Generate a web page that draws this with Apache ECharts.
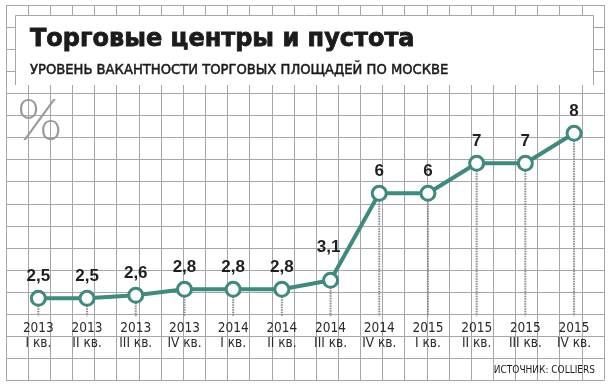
<!DOCTYPE html>
<html>
<head>
<meta charset="utf-8">
<script src="https://cdn.jsdelivr.net/npm/echarts@6/dist/echarts.min.js"></script>
<style>
html,body{margin:0;padding:0;background:#fff;}
#c{width:609px;height:389px;}
</style>
</head>
<body>
<div id="c"></div>
<script>
// ---- data ----
const years = ['2013','2013','2013','2013','2014','2014','2014','2014','2015','2015','2015','2015'];
const quarters = ['I кв.','II кв.','III кв.','IV кв.','I кв.','II кв.','III кв.','IV кв.','I кв.','II кв.','III кв.','IV кв.'];
const values = [2.5, 2.5, 2.6, 2.8, 2.8, 2.8, 3.1, 6, 6, 7, 7, 8];
const titleText = 'Торговые центры и пустота';
const subtitleText = 'УРОВЕНЬ ВАКАНТНОСТИ ТОРГОВЫХ ПЛОЩАДЕЙ ПО МОСКВЕ';
const unitText = '%';
const sourceText = 'ИСТОЧНИК: COLLIERS';

// ---- styles ----
const NARROW = "'Liberation Sans Narrow','DejaVu Sans Condensed',sans-serif";
const TEAL = '#3f8a7e';
const GRIDC = '#a6a6a8';
const AXIS_OFFSET = -57;

const chart = echarts.init(document.getElementById('c'), null, {renderer: 'canvas'});

const lineData = values.map((v, i) => {
  if (i === 6) return {value: v, label: {offset: [-2, -11]}};
  return v;
});

const option = {
  animation: false,
  backgroundColor: '#fff',
  title: [
    {text: titleText, left: 30, top: 28, textStyle: {fontFamily: "'DejaVu Sans',sans-serif", fontWeight: 'bold', fontSize: 24, color: '#1b1b1b', textBorderColor: '#1b1b1b', textBorderWidth: 0.8}, padding: 0, z: 8},
    {text: subtitleText, left: 30, top: 63, textStyle: {fontFamily: "'DejaVu Sans Condensed',sans-serif", fontWeight: 'normal', fontSize: 14.6, color: '#1b1b1b', textBorderColor: '#1b1b1b', textBorderWidth: 0.5}, padding: 0, z: 8},
    {text: unitText, left: 17, top: 92, textStyle: {fontFamily: "Lato,'Liberation Sans',sans-serif", fontWeight: 300, fontSize: 58, color: '#9a9a9a'}, padding: 0, z: 8},
    {text: sourceText, right: 14, top: 365, textStyle: {fontFamily: NARROW, fontWeight: 'normal', fontSize: 10, color: '#1b1b1b'}, padding: 0, z: 8}
  ],
  graphic: [
    {type: 'rect', z: 5, shape: {x: 15, y: 15, width: 578, height: 70}, style: {fill: '#fff'}},
    {type: 'polyline', z: 5, shape: {points: [[15.5, 85], [15.5, 15.5], [593.5, 15.5], [593.5, 85]]}, style: {stroke: GRIDC, lineWidth: 1, fill: null}}
  ],
  grid: [
    {left: 14, top: 73.3, width: 584.4, height: 300},
    {left: 6, top: 5, width: 598, height: 375.5}
  ],
  xAxis: [
    {
      type: 'category', gridIndex: 0, data: years, boundaryGap: true,
      offset: AXIS_OFFSET,
      axisLine: {show: false}, axisTick: {show: false}, splitLine: {show: false},
      axisLabel: {
        margin: 5, interval: 0, fontFamily: NARROW, fontSize: 13.5, lineHeight: 14.5, color: '#2a2a2a',
        formatter: (val, idx) => val + '\n' + quarters[idx]
      }
    },
    {
      type: 'value', gridIndex: 1, min: 0, max: 27, interval: 1,
      axisLine: {show: false}, axisTick: {show: false}, axisLabel: {show: false},
      splitLine: {show: true, lineStyle: {color: GRIDC, width: 1}}
    }
  ],
  yAxis: [
    {type: 'value', gridIndex: 0, min: 0, max: 10, show: false},
    {
      type: 'value', gridIndex: 1, min: 0, max: 17, interval: 1,
      axisLine: {show: false}, axisTick: {show: false}, axisLabel: {show: false},
      splitLine: {show: true, lineStyle: {color: GRIDC, width: 1}}
    }
  ],
  series: [
    {
      type: 'custom', xAxisIndex: 0, yAxisIndex: 0, z: 2,
      data: values.map((v, i) => [i, v]),
      encode: {x: 0, y: 1},
      renderItem: function (params, api) {
        const p = api.coord([api.value(0), api.value(1)]);
        const bottom = params.coordSys.y + params.coordSys.height + AXIS_OFFSET;
        return {
          type: 'line',
          shape: {x1: p[0], y1: p[1], x2: p[0], y2: bottom},
          style: {stroke: '#8a8a8c', lineWidth: 2, lineDash: [1.5, 1]}
        };
      }
    },
    {
      type: 'line', xAxisIndex: 0, yAxisIndex: 0, z: 3,
      data: lineData,
      lineStyle: {color: TEAL, width: 4},
      symbol: 'circle', symbolSize: 14,
      itemStyle: {color: '#fff', borderColor: TEAL, borderWidth: 3},
      label: {
        show: true, position: 'top', distance: 5,
        fontFamily: "'Liberation Sans',Arial,sans-serif", fontWeight: 'bold', fontSize: 17, color: '#1e1e1e',
        formatter: p => String(p.value).replace('.', ',')
      }
    }
  ]
};
chart.setOption(option);
</script>
</body>
</html>
